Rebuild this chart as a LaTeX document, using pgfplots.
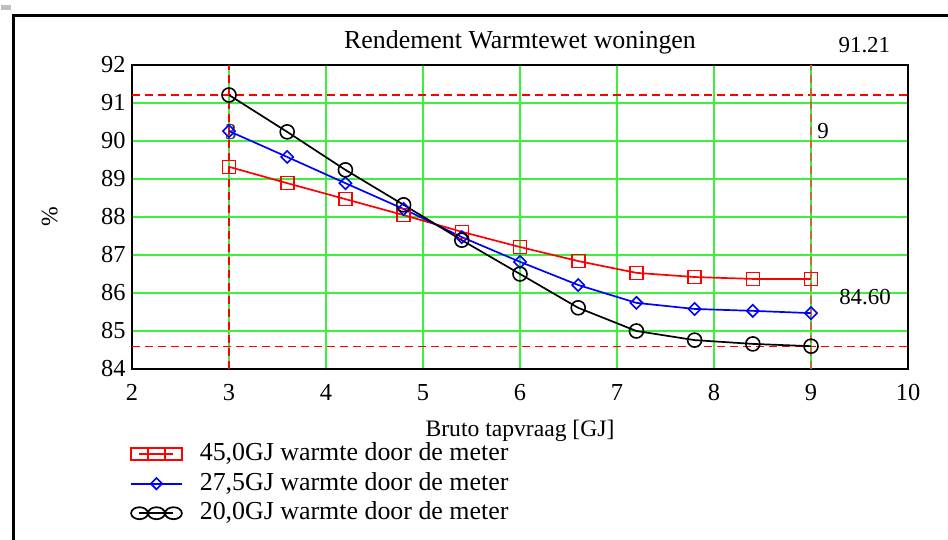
\documentclass[border=0pt]{standalone}
\usepackage{pgfplots}
\pgfplotsset{compat=1.18}
\usepackage{fontspec}
\setmainfont{Liberation Serif}
\definecolor{gridgreen}{RGB}{60,240,60}
\definecolor{brownish}{RGB}{190,110,50}
\newcommand\fticks{\rmfamily\fontsize{24.5}{28}\selectfont}
\newcommand\flab{\rmfamily\fontsize{23.7}{28}\selectfont}
\newcommand\ftitle{\rmfamily\fontsize{26}{30}\selectfont}
\newcommand\fann{\rmfamily\fontsize{23}{27}\selectfont}
\pgfplotsset{
  tripleleg/.style={legend image code/.code={\draw[##1, mark size=6bp, mark options={solid, xscale=1.4}] plot coordinates {(8.5bp,0bp) (25.5bp,0bp) (42.5bp,0bp)};}},
  singleleg/.style={legend image code/.code={\draw[##1, mark size=4bp, mark repeat=2, mark phase=2] plot coordinates {(0bp,0bp) (25.5bp,0bp) (51bp,0bp)};}},
}
\begin{document}
\begin{tikzpicture}[x=1bp,y=1bp]
\useasboundingbox (0,0) rectangle (948,540);
\fill[black!25] (1,530) rectangle (11,535);
\draw[line width=3bp] (13.5,0) -- (13.5,524.5) -- (948,524.5);
\begin{axis}[
  at={(132bp,171bp)}, anchor=south west,
  scale only axis, width=776bp, height=304bp,
  xmin=2, xmax=10, ymin=84, ymax=92,
  xtick={2,...,10}, ytick={84,...,92},
  major tick length=0pt,
  grid=major,
  major grid style={gridgreen, line width=1.3bp},
  axis line style={line width=2bp},
  clip=false,
  /pgf/number format/assume math mode=true,
  tick label style={font=\fticks},
  yticklabel style={xshift=-3bp},
  xticklabel style={yshift=-12bp},
  legend style={at={(-0.0065,-0.232)}, anchor=north west, draw=none, fill=none,
    font=\ftitle, column sep=17bp, row sep=4.5bp,
    nodes={inner sep=0pt, text height=19bp, text depth=6bp}},
  legend cell align=left,
]
% reference lines
\addplot[red, dash pattern=on 8bp off 5bp, line width=1.2bp, forget plot] coordinates {(2,91.21) (10,91.21)};
\addplot[red, dash pattern=on 8bp off 5bp, line width=1.2bp, forget plot] coordinates {(2,84.60) (10,84.60)};
\addplot[red, dash pattern=on 8bp off 5bp, line width=1.2bp, forget plot] coordinates {(3,84) (3,92)};
\addplot[brownish, dash pattern=on 8bp off 5bp, line width=1.5bp, forget plot] coordinates {(9,84) (9,92)};
\node[black!80, font=\fann] at (axis cs:3.02,90.24) {3};
\node[anchor=west, font=\fann] at (axis cs:9.03,90.26) {9};
\node[font=\fann] at (axis cs:9.55,92.53) {91.21};
\node[font=\fann] at (axis cs:9.557,85.89) {84.60};
\node[font=\ftitle] at (axis cs:6.0,92.6) {Rendement Warmtewet woningen};
\node[font=\flab] at (rel axis cs:0.5,-0.205) {Bruto tapvraag [GJ]};
\node[rotate=90, font=\flab] at (rel axis cs:-0.106,0.5) {\%};
% data
\addplot[red, line width=1.7bp, mark=square, mark size=6.5bp, mark options={solid, line width=1.6bp}, tripleleg]
 coordinates {(3,89.32) (3.6,88.89) (4.2,88.47) (4.8,88.05) (5.4,87.61) (6,87.21) (6.6,86.84) (7.2,86.53) (7.8,86.42) (8.4,86.37) (9,86.37)};
\addlegendentry{45,0GJ warmte door de meter}
\addplot[blue, line width=1.7bp, mark=square, mark size=4.3bp, mark options={solid, rotate=45, line width=1.6bp}, singleleg]
 coordinates {(3,90.26) (3.6,89.58) (4.2,88.89) (4.8,88.21) (5.4,87.47) (6,86.82) (6.6,86.21) (7.2,85.74) (7.8,85.58) (8.4,85.53) (9,85.47)};
\addlegendentry{27,5GJ warmte door de meter}
\addplot[black, line width=1.7bp, mark=o, mark size=7bp, mark options={solid, line width=1.6bp}, tripleleg]
 coordinates {(3,91.21) (3.6,90.24) (4.2,89.24) (4.8,88.32) (5.4,87.39) (6,86.50) (6.6,85.61) (7.2,85.0) (7.8,84.76) (8.4,84.66) (9,84.60)};
\addlegendentry{20,0GJ warmte door de meter}
\end{axis}
\end{tikzpicture}
\end{document}
